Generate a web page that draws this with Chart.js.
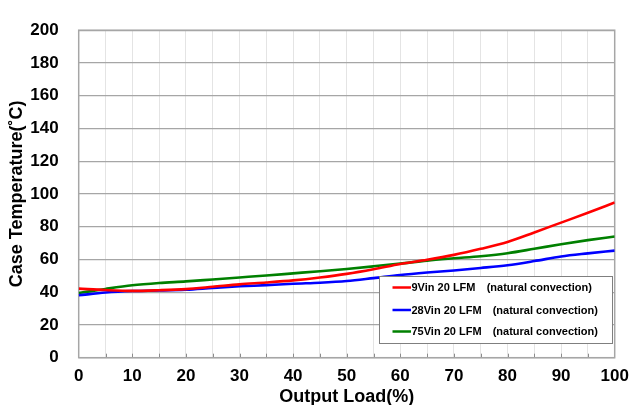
<!DOCTYPE html>
<html>
<head>
<meta charset="utf-8">
<script src="https://cdn.jsdelivr.net/npm/chart.js@4.4.1/dist/chart.umd.min.js"></script>
<style>
  html, body { margin: 0; padding: 0; background: #ffffff; }
  #wrap { width: 632px; height: 405px; position: relative; }
</style>
</head>
<body>
<div id="wrap"><canvas id="c" width="632" height="405"></canvas></div>
<script>
const loads = [0, 5, 10, 15, 20, 25, 30, 35, 40, 45, 50, 55, 60, 65, 70, 75, 80, 85, 90, 95, 100];
const vin9  = [42.2, 41.3, 40.8, 41.2, 41.9, 43.3, 44.8, 45.9, 47.2, 49.0, 51.2, 54.0, 57.2, 59.8, 62.8, 66.5, 70.7, 76.5, 82.5, 88.5, 94.8];
const vin28 = [38.1, 39.8, 40.7, 41.0, 41.5, 42.6, 43.6, 44.3, 45.2, 45.8, 46.8, 48.6, 50.5, 52.0, 53.3, 54.8, 56.5, 59.0, 61.8, 63.7, 65.4];
const vin75 = [39.5, 42.0, 44.2, 45.6, 46.6, 47.8, 49.0, 50.2, 51.5, 52.8, 54.2, 55.8, 57.5, 59.3, 60.7, 62.0, 63.8, 66.5, 69.3, 71.8, 74.0];
const seriesLabels = ["9Vin 20 LFM", "28Vin 20 LFM", "75Vin 20 LFM"];
const legendNote = "(natural convection)";
const xTitle = "Output Load(%)";
const yTitle = "Case Temperature(\u02DAC)";

const FONT = "'Liberation Sans', Arial, sans-serif";

function pts(arr) { return loads.map((x, i) => ({ x: x, y: arr[i] })); }

const framePlugin = {
  id: 'frame',
  beforeDatasetsDraw(chart) {
    const { ctx, chartArea: a } = chart;
    ctx.save();
    const xs = chart.scales.x;
    ctx.strokeStyle = '#8c8c8c';
    ctx.lineWidth = 1;
    for (let v = 5; v < 100; v += 5) {
      const px = Math.round(xs.getPixelForValue(v)) + 0.5;
      ctx.beginPath(); ctx.moveTo(px, a.bottom); ctx.lineTo(px, a.bottom - 4); ctx.stroke();
    }
    ctx.strokeStyle = '#a6a6a6';
    ctx.lineWidth = 1.5;
    ctx.strokeRect(a.left, a.top, a.right - a.left, a.bottom - a.top);
    ctx.restore();
  },
  afterDraw(chart) {
    const { ctx } = chart;
    ctx.save();
    const bx = 379.5, by = 276.5, bw = 233, bh = 67;
    ctx.fillStyle = '#ffffff';
    ctx.fillRect(bx, by, bw, bh);
    ctx.strokeStyle = '#7f7f7f';
    ctx.lineWidth = 1;
    ctx.strokeRect(bx, by, bw, bh);
    const rows = [287.5, 310, 331.5];
    const noteX = [486.7, 492.7, 492.7];
    ctx.font = "bold 11px " + FONT;
    ctx.textBaseline = 'middle';
    chart.data.datasets.forEach((ds, i) => {
      ctx.strokeStyle = ds.borderColor;
      ctx.lineWidth = 2.5;
      ctx.beginPath(); ctx.moveTo(392.5, rows[i]); ctx.lineTo(411, rows[i]); ctx.stroke();
      ctx.fillStyle = '#000000';
      ctx.textAlign = 'left';
      ctx.fillText(ds.label, 411.5, rows[i] + 0.5);
      ctx.fillText(legendNote, noteX[i], rows[i] + 0.5);
    });
    ctx.restore();
  }
};

new Chart(document.getElementById('c'), {
  type: 'line',
  data: {
    datasets: [
      { label: seriesLabels[0], data: pts(vin9),  borderColor: '#ff0000', backgroundColor: '#ff0000' },
      { label: seriesLabels[1], data: pts(vin28), borderColor: '#0000ff', backgroundColor: '#0000ff' },
      { label: seriesLabels[2], data: pts(vin75), borderColor: '#008000', backgroundColor: '#008000' }
    ]
  },
  options: {
    responsive: false,
    animation: false,
    devicePixelRatio: 1,
    layout: { padding: { top: 20, right: 17.3, left: 0, bottom: 0 } },
    elements: {
      point: { radius: 0 },
      line: { borderWidth: 2.6, tension: 0.4, cubicInterpolationMode: 'monotone' }
    },
    plugins: { legend: { display: false }, tooltip: { enabled: false } },
    scales: {
      x: {
        type: 'linear', min: 0, max: 100,
        afterFit(s) { s.height = 47.3; s.paddingRight = 0; s.paddingLeft = 0; },
        ticks: {
          stepSize: 5, autoSkip: false, maxRotation: 0, padding: 8,
          color: '#000', font: { family: FONT, size: 17, weight: 'bold' },
          callback: v => (v % 10 === 0 ? String(v) : '')
        },
        grid: { color: '#e4e4e4', lineWidth: 1, drawTicks: false, tickLength: 8 },
        border: { display: false },
        title: { display: true, text: xTitle, color: '#000', font: { family: FONT, size: 18, weight: 'bold' }, padding: { top: 0, bottom: -3 } }
      },
      y: {
        type: 'linear', min: 0, max: 200,
        afterFit(s) { s.width = 78.7; },
        ticks: {
          stepSize: 20, padding: 20,
          color: '#000', font: { family: FONT, size: 17, weight: 'bold' }
        },
        grid: { color: '#a6a6a6', lineWidth: 1.3, drawTicks: false },
        border: { display: false },
        title: { display: true, text: yTitle, color: '#000', font: { family: FONT, size: 18, weight: 'bold' }, padding: { top: 6, bottom: 0 } }
      }
    }
  },
  plugins: [framePlugin]
});
</script>
</body>
</html>
